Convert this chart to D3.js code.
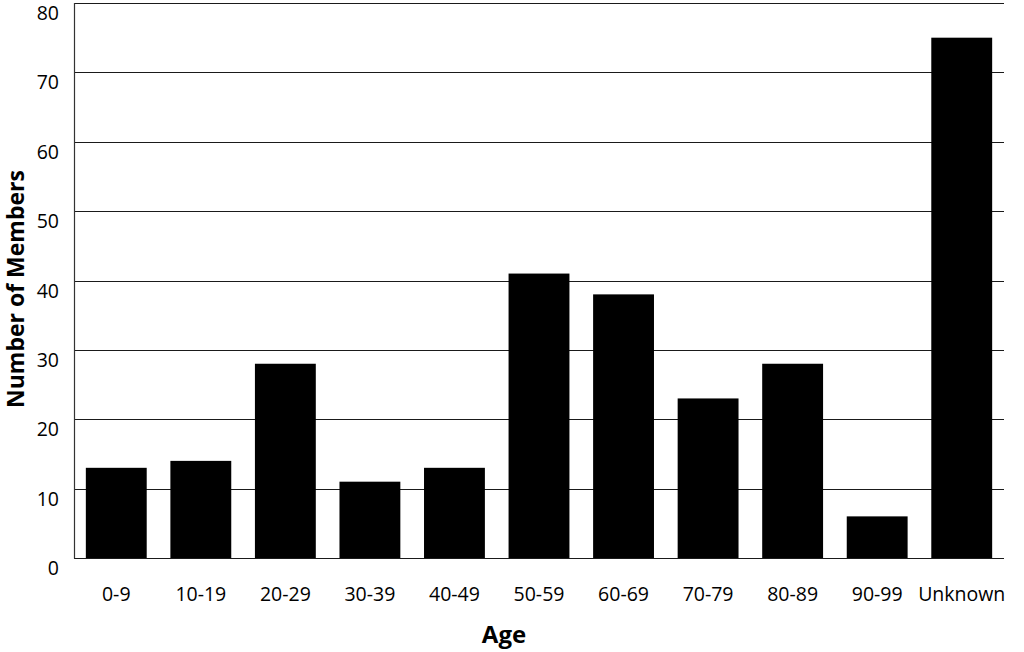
<!DOCTYPE html>
<html>
<head>
<meta charset="utf-8">
<script src="https://cdn.jsdelivr.net/npm/d3@7"></script>
<style>
  body { margin: 0; background: #fff; }
  svg { display: block; }
  text { font-family: "Open Sans", sans-serif; fill: #000; }
</style>
</head>
<body>
<div id="chart"></div>
<script>
// age groups and member counts
var ageGroups = ["0-9", "10-19", "20-29", "30-39", "40-49", "50-59", "60-69", "70-79", "80-89", "90-99", "Unknown"];
var memberCounts = [13, 14, 28, 11, 13, 41, 38, 23, 28, 6, 75];
var yTicks = [0, 10, 20, 30, 40, 50, 60, 70, 80];

var W = 1024, H = 652;
var margin = {top: 3, right: 20, bottom: 94, left: 74};
var width = W - margin.left - margin.right,
    height = H - margin.top - margin.bottom;

var svg = d3.select("#chart").append("svg")
    .attr("width", W)
    .attr("height", H);

var g = svg.append("g")
    .attr("transform", "translate(" + margin.left + "," + margin.top + ")");

var x = d3.scaleBand()
    .domain(ageGroups)
    .range([0, width])
    .paddingInner(0.28)
    .paddingOuter(0.14);

var y = d3.scaleLinear()
    .domain([0, 80])
    .range([height, 0]);

// horizontal grid lines
g.selectAll(".grid")
    .data(yTicks)
    .enter().append("line")
    .attr("class", "grid")
    .attr("x1", 0)
    .attr("x2", width)
    .attr("y1", function(d) { return Math.round(y(d)) + 0.5; })
    .attr("y2", function(d) { return Math.round(y(d)) + 0.5; })
    .attr("stroke", "#1a1a1a")
    .attr("stroke-width", 1.2);

// y tick labels sit a bit below their line
g.selectAll(".ylab")
    .data(yTicks)
    .enter().append("text")
    .attr("class", "ylab")
    .attr("x", -15)
    .attr("y", function(d) { return y(d) + 9.5; })
    .attr("text-anchor", "end")
    .attr("dominant-baseline", "central")
    .style("font-size", "19.5px")
    .text(function(d) { return d; });

// bars
g.selectAll(".bar")
    .data(memberCounts)
    .enter().append("rect")
    .attr("class", "bar")
    .attr("x", function(d, i) { return x(ageGroups[i]); })
    .attr("width", x.bandwidth())
    .attr("y", function(d) { return y(d); })
    .attr("height", function(d) { return height - y(d); })
    .attr("fill", "#000");

// left axis line
g.append("line")
    .attr("x1", 0.5).attr("x2", 0.5)
    .attr("y1", 0).attr("y2", height + 0.5)
    .attr("stroke", "#333")
    .attr("stroke-width", 1.2);

// x labels
g.selectAll(".xlab")
    .data(ageGroups)
    .enter().append("text")
    .attr("class", "xlab")
    .attr("x", function(d) { return x(d) + x.bandwidth() / 2; })
    .attr("y", height + 35)
    .attr("text-anchor", "middle")
    .attr("dominant-baseline", "central")
    .style("font-size", "19.5px")
    .text(function(d) { return d; });

// axis titles
svg.append("text")
    .attr("x", 504)
    .attr("y", 643)
    .attr("text-anchor", "middle")
    .style("font-size", "24px")
    .style("font-weight", "bold")
    .text("Age");

svg.append("text")
    .attr("transform", "translate(24,289) rotate(-90)")
    .attr("text-anchor", "middle")
    .style("font-size", "23px")
    .style("font-weight", "bold")
    .text("Number of Members");
</script>
</body>
</html>
